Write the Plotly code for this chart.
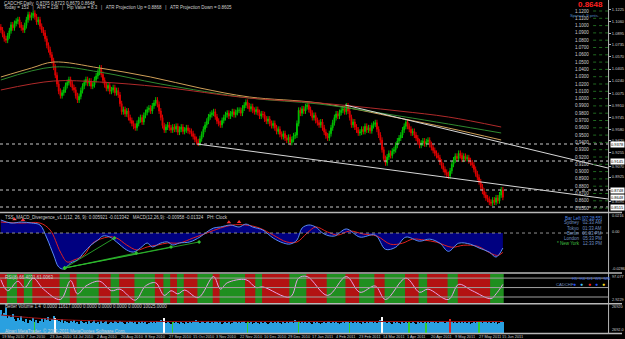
import plotly.graph_objects as go

W, H = 625, 339
PLOT_RIGHT_PX = 611
BAR_PX = 1.71

# ---------------- data ----------------
DATE_LABELS = ["19 May 2010", "7 Jun 2010", "23 Jun 2010", "14 Jul 2010", "2 Aug 2010", "20 Aug 2010",
               "8 Sep 2010", "27 Sep 2010", "15 Oct 2010", "3 Nov 2010", "22 Nov 2010", "10 Dec 2010",
               "29 Dec 2010", "17 Jan 2011", "4 Feb 2011", "23 Feb 2011", "14 Mar 2011", "1 Apr 2011",
               "20 Apr 2011", "9 May 2011", "27 May 2011", "15 Jun 2011"]
DATE_LABEL_BARS = [0, 14, 28, 42, 56, 70, 84, 98, 112, 126, 140, 154, 168, 182, 196, 210, 224, 238,
                   252, 266, 280, 294]

FIRST_OPEN = 1.098
CLOSE = [
    1.094, 1.088, 1.082, 1.080, 1.086, 1.093, 1.101, 1.097, 1.103, 1.106,
    1.108, 1.101, 1.097, 1.094, 1.100, 1.108, 1.115, 1.111, 1.114, 1.117,
    1.112, 1.105, 1.108, 1.099, 1.094, 1.090, 1.082, 1.073, 1.067, 1.060,
    1.052, 1.043, 1.032, 1.020, 1.010, 1.004, 1.008, 1.012, 1.018, 1.022,
    1.026, 1.020, 1.015, 1.012, 1.004, 0.998, 1.003, 1.011, 1.017, 1.022,
    1.026, 1.021, 1.024, 1.017, 1.019, 1.026, 1.031, 1.036, 1.042, 1.033,
    1.025, 1.019, 1.014, 1.018, 1.010, 1.012, 1.015, 1.008, 1.011, 1.005,
    0.993, 0.982, 0.985, 0.979, 0.983, 0.974, 0.970, 0.966, 0.962, 0.960,
    0.966, 0.971, 0.974, 0.968, 0.977, 0.981, 0.985, 0.987, 0.983, 0.990,
    0.994, 0.998, 0.992, 0.983, 0.974, 0.963, 0.957, 0.961, 0.964, 0.960,
    0.957, 0.961, 0.958, 0.962, 0.954, 0.958, 0.961, 0.955, 0.957, 0.960,
    0.956, 0.955, 0.952, 0.948, 0.944, 0.941, 0.939, 0.945, 0.951, 0.958,
    0.964, 0.969, 0.975, 0.978, 0.980, 0.982, 0.975, 0.969, 0.966, 0.964,
    0.970, 0.974, 0.978, 0.980, 0.976, 0.979, 0.982, 0.978, 0.981, 0.984,
    0.984, 0.980, 0.987, 0.991, 0.995, 0.990, 0.986, 0.989, 0.984, 0.982,
    0.985, 0.981, 0.976, 0.979, 0.978, 0.972, 0.969, 0.972, 0.966, 0.963,
    0.966, 0.960, 0.955, 0.958, 0.951, 0.948, 0.952, 0.946, 0.943, 0.947,
    0.940, 0.944, 0.949, 0.950, 0.966, 0.984, 0.980, 0.986, 0.983, 0.989,
    0.991, 0.985, 0.980, 0.974, 0.977, 0.970, 0.967, 0.964, 0.968, 0.960,
    0.954, 0.949, 0.946, 0.952, 0.960, 0.967, 0.974, 0.979, 0.976, 0.981,
    0.984, 0.986, 0.982, 0.990, 0.983, 0.974, 0.964, 0.968, 0.961, 0.957,
    0.953, 0.954, 0.958, 0.955, 0.962, 0.957, 0.960, 0.956, 0.963, 0.965,
    0.967, 0.958, 0.950, 0.943, 0.930, 0.918, 0.912, 0.920, 0.925, 0.922,
    0.928, 0.930, 0.936, 0.942, 0.946, 0.950, 0.957, 0.962, 0.968, 0.962,
    0.958, 0.953, 0.955, 0.950, 0.946, 0.941, 0.936, 0.939, 0.942, 0.938,
    0.941, 0.943, 0.937, 0.933, 0.929, 0.925, 0.922, 0.919, 0.913, 0.908,
    0.903, 0.899, 0.896, 0.894, 0.901, 0.910, 0.916, 0.921, 0.918, 0.925,
    0.922, 0.917, 0.921, 0.918, 0.919, 0.915, 0.912, 0.909, 0.903, 0.897,
    0.892, 0.886, 0.879, 0.873, 0.868, 0.864, 0.862, 0.858, 0.857, 0.861,
    0.858, 0.864, 0.860, 0.868, 0.875, 0.8648,
]
WICK = 0.004

# moving averages (vertices: bar index, price)
MA_TAN_BARS = [0, 18, 31, 58, 88, 117, 146, 187, 234, 263, 294]
MA_TAN = [1.0296, 1.0419, 1.0501, 1.0419, 1.0296, 1.0145, 1.0022, 0.9940, 0.9734, 0.9597, 0.9433]
MA_GREEN_BARS = [0, 31, 58, 94, 146, 187, 234, 263, 294]
MA_GREEN = [1.0255, 1.0433, 1.0364, 1.0200, 1.0008, 0.9926, 0.9762, 0.9652, 0.9529]
MA_RED_BARS = [0, 31, 58, 94, 146, 187, 234, 263, 294]
MA_RED = [1.0118, 1.0241, 1.0227, 1.0159, 1.0008, 0.9940, 0.9830, 0.9748, 0.9611]

# trend lines (bar, price) endpoints
TL_LOW_BARS = [115.3, 356.8]
TL_LOW = [0.9378, 0.8625]
TL_HIGH_BARS = [202.4, 356.8]
TL_HIGH = [0.9912, 0.9049]

HLINES = [0.9378, 0.9145, 0.8748, 0.8515]
LAST_PRICE = 0.8648
PRICE_LEVELS = [1.12, 1.11, 1.10, 1.09, 1.08, 1.07, 1.06, 1.05, 1.04, 1.03, 1.02, 1.01, 1.00, 0.99,
                0.98, 0.97, 0.96, 0.95, 0.94, 0.93, 0.92, 0.91, 0.90, 0.89, 0.88, 0.87, 0.86, 0.85]
RIGHT_TICKS = [1.1225, 1.1060, 1.0895, 1.0735, 1.0570, 1.0405, 1.0240, 1.0075, 0.9910, 0.9745,
               0.9580, 0.9420, 0.9255, 0.9070, 0.8925, 0.8760, 0.8595]

# MACD (vertices)
MACD_BARS = [0, 6, 12, 18, 23, 27, 31, 34, 37, 41, 45, 49, 53, 57, 60, 64, 68, 74, 78, 82, 86, 89, 94,
             98, 101, 105, 111, 117, 121, 125, 129, 135, 140, 144, 148, 154, 160, 166, 170, 174, 177,
             181, 185, 190, 196, 203, 211, 220, 226, 232, 238, 246, 252, 258, 263, 269, 276, 281, 287,
             291, 295]
MACD_MAIN = [0.0128, 0.0098, 0.0108, 0.0098, 0.0079, -0.0049, -0.0216, -0.0334, -0.0354, -0.0295,
             -0.0265, -0.0187, -0.0118, -0.0069, -0.0029, -0.0039, -0.0088, -0.0167, -0.0187, -0.0147,
             -0.0098, -0.0137, -0.0098, -0.0088, -0.0118, -0.0098, -0.0088, -0.0039, 0.0010, 0.0049,
             0.0059, 0.0079, 0.0059, 0.0088, 0.0059, 0.0029, -0.0049, -0.0098, -0.0108, -0.0069,
             0.0049, 0.0079, 0.0059, -0.0010, -0.0030, 0.0040, -0.0040, -0.0020, -0.0160, -0.0140,
             -0.0040, -0.0080, -0.0060, -0.0100, -0.0180, -0.0100, -0.0110, -0.0147, -0.0187, -0.0236,
             -0.0147]
SIG_BARS = [0, 12, 23, 29, 35, 39, 43, 49, 54, 63, 68, 74, 80, 86, 92, 98, 105, 113, 121, 129, 136,
            144, 152, 160, 168, 174, 180, 185, 192, 198, 205, 213, 221, 229, 236, 242, 249, 256, 265,
            272, 280, 288, 292, 295]
MACD_SIGNAL = [0.0108, 0.0098, 0.0098, 0.0029, -0.0187, -0.0285, -0.0265, -0.0216, -0.0098, -0.0039,
               -0.0049, -0.0118, -0.0167, -0.0137, -0.0118, -0.0098, -0.0098, -0.0049, 0.0, 0.0049,
               0.0079, 0.0079, 0.0049, -0.0020, -0.0088, -0.0088, 0.0, 0.0059, 0.0010, -0.0020,
               0.0020, -0.0010, -0.0030, -0.0110, -0.0100, -0.0060, -0.0070, -0.0090, -0.0140,
               -0.0120, -0.0130, -0.0200, -0.0220, -0.0190]
DIV_START = (37.5, -0.0344)
DIV_END_BARS = [66.8, 79.6, 100.0, 116.5]
DIV_END_VALS = [-0.0049, -0.0196, -0.0137, -0.0088]
DIV_MARK_BARS = [8, 13, 134, 140]
DIV_MARK_VALS = [0.0135, 0.0128, 0.0105, 0.0108]

# RSI (vertices)
RSI_BARS = [0, 4, 10, 14, 19, 25, 35, 41, 45, 50, 58, 65, 70, 79, 85, 91, 96, 100, 104, 108, 116, 125,
            129, 133, 144, 150, 154, 170, 175, 180, 192, 203, 211, 220, 226, 238, 246, 251, 263, 269,
            277, 288, 291, 295]
RSI_VALS = [75, 40, 70, 50, 80, 45, 12, 72, 30, 55, 70, 40, 45, 10, 55, 65, 25, 40, 30, 42, 18, 85,
            45, 65, 75, 50, 52, 20, 80, 85, 25, 85, 35, 55, 12, 80, 35, 45, 12, 60, 40, 15, 30, 60]
RSI_LEVELS = [80, 50, 20]

# volume
VOLUME = [
    24000, 19000, 21000, 26000, 16000, 18000, 17000, 20000, 15000, 13000,
    16000, 14000, 18000, 13000, 12000, 15000, 11000, 14000, 13000, 16000,
    12000, 14000, 11000, 13000, 15000, 12000, 16000, 14000, 17000, 13000,
    15000, 18000, 16000, 14000, 13000, 12000, 15000, 11000, 13000, 12000,
    11000, 13000, 12000, 14000, 11000, 12000, 10000, 13000, 12000, 11000,
    12000, 10000, 13000, 11000, 12000, 14000, 11000, 12000, 10000, 13000,
    11000, 12000, 13000, 10000, 11000, 12000, 11000, 13000, 12000, 11000,
    13000, 12000, 11000, 10000, 12000, 11000, 13000, 12000, 11000, 12000,
    10000, 12000, 11000, 13000, 11000, 12000, 10000, 11000, 12000, 11000,
    12000, 11000, 13000, 12000, 14000, 12000, 16000, 11000, 12000, 11000,
    10000, 12000, 11000, 12000, 11000, 10000, 12000, 11000, 10000, 12000,
    11000, 12000, 11000, 13000, 12000, 14000, 12000, 11000, 13000, 12000,
    11000, 12000, 13000, 11000, 12000, 11000, 13000, 12000, 11000, 12000,
    10000, 11000, 12000, 11000, 12000, 10000, 11000, 13000, 12000, 11000,
    12000, 11000, 12000, 13000, 11000, 12000, 11000, 12000, 10000, 11000,
    12000, 11000, 10000, 12000, 11000, 12000, 11000, 10000, 11000, 12000,
    11000, 12000, 11000, 13000, 11000, 10000, 12000, 11000, 12000, 11000,
    12000, 13000, 11000, 14000, 12000, 13000, 11000, 12000, 11000, 12000,
    11000, 12000, 11000, 10000, 12000, 11000, 12000, 11000, 10000, 11000,
    12000, 11000, 12000, 13000, 11000, 12000, 11000, 12000, 11000, 10000,
    11000, 12000, 11000, 13000, 12000, 11000, 12000, 11000, 12000, 11000,
    12000, 11000, 10000, 12000, 11000, 12000, 11000, 13000, 12000, 11000,
    12000, 11000, 13000, 14000, 17000, 13000, 12000, 11000, 12000, 11000,
    10000, 12000, 11000, 12000, 11000, 10000, 12000, 11000, 12000, 11000,
    12000, 11000, 12000, 11000, 10000, 12000, 11000, 12000, 11000, 12000,
    11000, 12000, 11000, 13000, 12000, 11000, 12000, 11000, 12000, 13000,
    12000, 11000, 12000, 13000, 15000, 12000, 11000, 12000, 11000, 12000,
    11000, 12000, 11000, 12000, 11000, 12000, 10000, 11000, 12000, 11000,
    12000, 13000, 12000, 11000, 12000, 13000, 11000, 12000, 11000, 12000,
    11000, 12000, 10000, 11000, 12000, 11617,
]
VOL_WHITE = [32, 96, 224]
VOL_GREEN = [20, 101, 145, 175, 205, 240, 250, 281]
VOL_RED = [264]
VOL_MA_BARS = [0, 20, 40, 70, 150, 295]
VOL_MA = [18000, 15000, 13000, 11800, 11600, 11500]

# ---------------- figure ----------------
n = len(CLOSE)
bars = list(range(n))
opens = [FIRST_OPEN] + CLOSE[:-1]
highs = [max(o, c) + WICK for o, c in zip(opens, CLOSE)]
lows = [min(o, c) - WICK for o, c in zip(opens, CLOSE)]

X_MIN = -0.5
X_MAX = X_MIN + PLOT_RIGHT_PX / BAR_PX
XDOM = [0, PLOT_RIGHT_PX / W]


def ydom(top_px, bottom_px):
    return [1 - bottom_px / H, 1 - top_px / H]


def py(px):
    return 1 - px / H


FONT = "Liberation Sans"
TXT = "#d0d0d0"

fig = go.Figure()

# main panel
fig.add_trace(go.Candlestick(
    x=bars, open=opens, high=highs, low=lows, close=CLOSE,
    increasing=dict(line=dict(color="#00c000", width=1), fillcolor="#00c000"),
    decreasing=dict(line=dict(color="#e00000", width=1), fillcolor="#e00000"),
    whiskerwidth=0, xaxis="x", yaxis="y", hoverinfo="skip", showlegend=False))
for xs, ys, col in [(MA_TAN_BARS, MA_TAN, "#d0a058"), (MA_GREEN_BARS, MA_GREEN, "#2f8a2f"),
                    (MA_RED_BARS, MA_RED, "#b02a2a")]:
    fig.add_trace(go.Scatter(x=xs, y=ys, mode="lines", line=dict(color=col, width=1, shape="spline"),
                             xaxis="x", yaxis="y", showlegend=False, hoverinfo="skip"))
for xs, ys in [(TL_LOW_BARS, TL_LOW), (TL_HIGH_BARS, TL_HIGH)]:
    fig.add_trace(go.Scatter(x=xs, y=ys, mode="lines", line=dict(color="#d8d8d8", width=1),
                             xaxis="x", yaxis="y", showlegend=False, hoverinfo="skip"))

# MACD panel
fig.add_trace(go.Scatter(x=MACD_BARS, y=MACD_MAIN, mode="lines", line=dict(width=0, shape="spline"),
                         fill="tozeroy", fillcolor="#000080", xaxis="x2", yaxis="y2",
                         showlegend=False, hoverinfo="skip"))
fig.add_trace(go.Scatter(x=SIG_BARS, y=MACD_SIGNAL, mode="lines",
                         line=dict(color="#e02020", width=1, shape="spline"),
                         xaxis="x2", yaxis="y2", showlegend=False, hoverinfo="skip"))
fig.add_trace(go.Scatter(x=MACD_BARS, y=MACD_MAIN, mode="lines",
                         line=dict(color="#5a8cf0", width=1, shape="spline"),
                         xaxis="x2", yaxis="y2", showlegend=False, hoverinfo="skip"))
for xb, yv in zip(DIV_END_BARS, DIV_END_VALS):
    fig.add_trace(go.Scatter(x=[DIV_START[0], xb], y=[DIV_START[1], yv], mode="lines+markers",
                             line=dict(color="#30c030", width=0.8),
                             marker=dict(symbol="diamond", size=3, color="#30c030"),
                             xaxis="x2", yaxis="y2", showlegend=False, hoverinfo="skip"))
fig.add_trace(go.Scatter(x=DIV_MARK_BARS, y=DIV_MARK_VALS, mode="markers",
                         marker=dict(symbol="triangle-up", size=4, color="#ff3030"),
                         xaxis="x2", yaxis="y2", showlegend=False, hoverinfo="skip"))

# RSI panel
fig.add_trace(go.Scatter(x=RSI_BARS, y=RSI_VALS, mode="lines",
                         line=dict(color="#e8a0e8", width=1, shape="spline"),
                         xaxis="x3", yaxis="y3", showlegend=False, hoverinfo="skip"))

# volume panel
vcols = []
for i in bars:
    if i in VOL_WHITE:
        vcols.append("#ffffff")
    elif i in VOL_GREEN:
        vcols.append("#30d030")
    elif i in VOL_RED:
        vcols.append("#e02020")
    else:
        vcols.append("#2aa0e0")
fig.add_trace(go.Bar(x=bars, y=VOLUME, marker=dict(color=vcols, line=dict(width=0)), width=0.7,
                     xaxis="x4", yaxis="y4", showlegend=False, hoverinfo="skip"))
fig.add_trace(go.Scatter(x=VOL_MA_BARS, y=VOL_MA, mode="lines",
                         line=dict(color="#a01010", width=1, shape="spline"),
                         xaxis="x4", yaxis="y4", showlegend=False, hoverinfo="skip"))

shapes = []
for lv in HLINES:
    shapes.append(dict(type="line", xref="x domain", yref="y", x0=0, x1=1, y0=lv, y1=lv,
                       line=dict(color="#c8c8c8", width=1, dash="dot")))
for lv in PRICE_LEVELS:
    shapes.append(dict(type="line", xref="paper", yref="y", x0=596 / W, x1=PLOT_RIGHT_PX / W,
                       y0=lv, y1=lv, line=dict(color="#206820", width=1, dash="dot")))
shapes.append(dict(type="line", xref="x2 domain", yref="y2", x0=0, x1=1, y0=0, y1=0,
                   line=dict(color="#909090", width=1, dash="dot")))
for a, b, va, vb in zip(RSI_BARS[:-1], RSI_BARS[1:], RSI_VALS[:-1], RSI_VALS[1:]):
    shapes.append(dict(type="rect", xref="x3", yref="y3 domain", x0=a - 0.5, x1=b + 0.5, y0=0, y1=1,
                       fillcolor="#1f8f1f" if vb > va else "#b31212", line=dict(width=0),
                       layer="below"))
for lv in RSI_LEVELS:
    shapes.append(dict(type="line", xref="x3 domain", yref="y3", x0=0, x1=1, y0=lv, y1=lv,
                       line=dict(color="#a0a0a0", width=1)))
for ypx in [212.5, 273, 303.7, 333.5]:
    shapes.append(dict(type="line", xref="paper", yref="paper", x0=0, x1=1, y0=py(ypx), y1=py(ypx),
                       line=dict(color="#b8b8b8", width=1.5)))
shapes.append(dict(type="line", xref="paper", yref="paper", x0=(PLOT_RIGHT_PX + 0.5) / W,
                   x1=(PLOT_RIGHT_PX + 0.5) / W, y0=py(333.5), y1=1,
                   line=dict(color="#b8b8b8", width=1)))

ann = []


def text(x_px, y_px, s, size=4.5, color=TXT, xanchor="left", **kw):
    ann.append(dict(xref="paper", yref="paper", x=x_px / W, y=py(y_px), text=s, showarrow=False,
                    xanchor=xanchor, yanchor="middle", font=dict(family=FONT, size=size, color=color),
                    **kw))


text(2, 3, "CADCHF,Daily  0.8705 0.8723 0.8679 0.8648")
text(2, 7.5, "Today = 153   |   ATR = 138   |   Pip Value = 8.3   |   ATR Projection Up = 0.8868   |"
             "   ATR Projection Down = 0.8605")
text(608, 5.0, "<b>0.8648</b>", size=8, color="#ff2020", xanchor="right")
text(571, 15.8, "Spread: 9 pnts.", size=4.3, color="#4f86c0", xanchor="left")

for lv in PRICE_LEVELS:
    ann.append(dict(xref="paper", yref="y", x=594 / W, y=lv, text=f"{lv:.4f}", showarrow=False,
                    xanchor="right", yanchor="middle", font=dict(family=FONT, size=4.5, color=TXT)))

for lv in HLINES + [LAST_PRICE]:
    ann.append(dict(xref="paper", yref="y", x=(PLOT_RIGHT_PX + 1.5) / W, y=lv, text=f"{lv:.4f}",
                    showarrow=False, xanchor="left", yanchor="middle", bgcolor="#ffffff", borderpad=0,
                    font=dict(family=FONT, size=4.0, color="#000000")))

text(3, 217.5, "TSS_MACD_Divergence_v1.1(12, 26, 9): 0.005921 -0.013342   MACD(12,26,9): -0.00958 -0.01324"
               "   PH: Clock")
clock = [("Bar Left [07:28:55]", "#4f86e0"), ("Sydney   02:33 AM", "#6f8fc0"),
         ("Tokyo   01:33 AM", "#6f8fc0"), ("Berlin   06:33 PM", "#6f8fc0"),
         ("London   05:33 PM", "#6f8fc0"),
         ("<span style='color:#40c040'>* New York</span>   12:33 PM", "#6f8fc0")]
for k, (s, c) in enumerate(clock):
    text(607, 218 + 5 * k, s, size=4.5, color=c, xanchor="right")
text(612.5, 216, "0.0216", size=3.8)
text(612.5, 232, "0.00", size=3.8)
text(612.5, 269, "-0.0286", size=3.8)

text(3, 277.5, "RSI(8) 66.4031 61.0063")
text(573, 278, "H1  H4  D1  W1  MN", size=4.2, color="#3060e0")
text(557, 284, "CADCHF", size=4.2, color="#6f8fc0")
for xx, c in zip([577, 584.5, 592, 599, 606], ["#2050ff", "#40c0ff", "#ff2020", "#2050ff", "#ffe020"]):
    text(xx, 284, "●", size=5, color=c, xanchor="center")
text(612.5, 277, "97.077", size=3.8)
text(612.5, 300, "2.9229", size=3.8)

text(3, 306.5, "Better Volume 1.4  0.0000 11617.0000 0.0000 0.0000 0.0000 0.0000 10025.0000")
text(3, 331, "Alpari MetaTrader, © 2001-2011 MetaQuotes Software Corp.")
text(612.5, 307, "26920", size=3.8)
text(612.5, 330, "2692.0", size=3.8)

for b, lab in zip(DATE_LABEL_BARS, DATE_LABELS):
    ann.append(dict(xref="x4", yref="paper", x=b - 0.5, y=py(336.3), text=lab, showarrow=False,
                    xanchor="left", yanchor="middle", font=dict(family=FONT, size=3.9, color=TXT)))

ax_common = dict(showgrid=False, zeroline=False, showline=False)
fig.update_layout(
    width=W, height=H, margin=dict(l=0, r=0, t=0, b=0),
    paper_bgcolor="#000000", plot_bgcolor="#000000",
    shapes=shapes, annotations=ann, bargap=0,
    xaxis=dict(domain=XDOM, range=[X_MIN, X_MAX], anchor="y", showticklabels=False,
               rangeslider=dict(visible=False), **ax_common),
    xaxis2=dict(domain=XDOM, matches="x", anchor="y2", showticklabels=False, **ax_common),
    xaxis3=dict(domain=XDOM, matches="x", anchor="y3", showticklabels=False, **ax_common),
    xaxis4=dict(domain=XDOM, matches="x", anchor="y4", showticklabels=False, **ax_common),
    yaxis=dict(domain=ydom(0, 212), range=[0.84466, 1.13507], anchor="x", side="right",
               tickvals=RIGHT_TICKS, ticktext=[f"{v:.4f}" for v in RIGHT_TICKS],
               tickfont=dict(family=FONT, size=4.0, color=TXT), ticks="outside", ticklen=2,
               tickcolor="#b8b8b8", **ax_common),
    yaxis2=dict(domain=ydom(214, 272), range=[-0.0383, 0.0187], anchor="x2", showticklabels=False,
                **ax_common),
    yaxis3=dict(domain=ydom(274, 303), range=[1, 93], anchor="x3", showticklabels=False, **ax_common),
    yaxis4=dict(domain=ydom(304.5, 333), range=[0, 28500], anchor="x4", showticklabels=False,
                **ax_common),
)

fig.write_html("out.html")
